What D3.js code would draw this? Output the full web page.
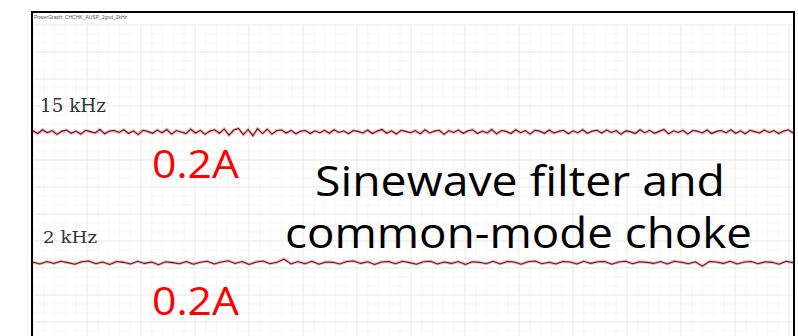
<!DOCTYPE html>
<html>
<head>
<meta charset="utf-8">
<script src="https://cdn.jsdelivr.net/npm/d3@7"></script>
<style>
  html, body { margin: 0; padding: 0; background: #fff; }
  svg { display: block; }
</style>
</head>
<body>
<div id="chart"></div>
<script>
// scope capture: two channels, deviation from level in divisions
var channelNames = ['15 kHz', '2 kHz'];
var channelLevels = [3.96, 8.81];          // division position of each trace (from top of grid)
var currentLabels = ['0.2A', '0.2A'];
var captionLines = ['Sinewave filter and', 'common-mode choke'];
var plotTitle = 'PowerGraph: CHCHK_AUSP_2gnd_2kHz';

var trace15k = [
  0.04,-0.06,0.08,-0.03,0.05,-0.09,0.02,0.07,-0.05,0.03,-0.08,0.06,0.01,-0.04,0.09,-0.07,0.03,0.05,-0.02,0.08,
  -0.06,0.04,-0.10,0.06,0.02,-0.05,0.07,-0.03,0.09,-0.08,0.05,0.00,-0.06,0.10,-0.04,0.06,-0.09,0.03,0.08,-0.05,
  0.11,-0.12,0.07,0.13,-0.10,0.09,-0.14,0.12,-0.06,0.10,-0.08,0.05,0.07,-0.04,0.06,-0.07,0.03,0.05,-0.06,0.04,
  -0.03,0.06,-0.05,0.08,-0.02,0.04,-0.07,0.05,0.02,-0.04,0.07,-0.06,0.03,0.09,-0.05,0.04,-0.08,0.06,0.02,-0.03,
  0.05,-0.07,0.08,-0.04,0.03,0.06,-0.09,0.05,-0.02,0.07,-0.05,0.04,0.08,-0.06,0.03,-0.04,0.09,-0.07,0.05,0.02,
  -0.06,0.08,-0.03,0.05,-0.08,0.06,0.03,-0.05,0.07,-0.04,0.02,0.06,-0.07,0.04,-0.03,0.08,-0.05,0.03,0.06,-0.04,
  0.07,-0.02,0.05,-0.09,0.04,0.01,-0.06,0.08,-0.03,0.06,-0.05,0.02,0.09,-0.07,0.04,-0.02,0.06,-0.08,0.05,0.03,
  -0.04,0.07,-0.06,0.02,0.05,-0.03,0.08,-0.05,0.04,-0.07,0.06,0.01,-0.04,0.07,-0.02,0.05,-0.06,0.03,0.08,-0.04
];
var trace2k = [
  0.02,-0.04,0.05,-0.02,0.06,0.01,-0.05,0.04,0.07,-0.03,0.03,-0.06,0.05,0.02,-0.04,0.06,-0.02,0.03,-0.07,0.04,
  0.01,-0.03,0.05,-0.05,0.02,0.06,-0.04,0.03,0.08,-0.02,0.05,-0.06,0.03,0.07,-0.03,0.02,0.14,-0.04,0.05,-0.03,
  0.06,-0.05,0.03,0.02,-0.04,0.05,0.07,-0.02,0.04,-0.06,0.03,0.05,-0.03,0.06,0.01,-0.05,0.04,0.06,-0.04,0.03,
  -0.02,0.05,-0.06,0.04,0.02,-0.03,0.06,-0.04,0.05,0.03,-0.05,0.04,0.07,-0.03,0.02,-0.04,0.05,0.03,-0.04,0.06,
  -0.02,0.04,0.05,-0.05,0.03,0.06,-0.03,0.04,0.02,-0.02,0.05,-0.04,0.06,0.02,-0.03,0.04,-0.12,0.05,0.03,-0.02,
  0.06,-0.04,0.03,0.05,-0.03,0.04,0.02,-0.05,0.06,0.01
];

var W = 798, H = 336;
var frame = { left: 32, top: 12, right: 794 };

var svg = d3.select('#chart').append('svg')
    .attr('width', W)
    .attr('height', H);

var xScale = d3.scaleLinear().domain([0, 14]).range([33, 789]);         // major divisions
var yScale = d3.scaleLinear().domain([0, 12]).range([25, 349]);         // divisions from top of grid

// grid
var grid = svg.append('g');
var minorX = d3.range(0, 14.01, 0.2), minorY = d3.range(0, 12.01, 0.333333);
grid.selectAll('line.mx').data(minorX).enter().append('line')
    .attr('x1', function (d) { return xScale(d); })
    .attr('x2', function (d) { return xScale(d); })
    .attr('y1', yScale(0)).attr('y2', H)
    .attr('stroke', '#f6f6f6').attr('stroke-width', 1);
grid.selectAll('line.my').data(minorY).enter().append('line')
    .attr('y1', function (d) { return yScale(d); })
    .attr('y2', function (d) { return yScale(d); })
    .attr('x1', frame.left).attr('x2', frame.right)
    .attr('stroke', '#f6f6f6').attr('stroke-width', 1);
grid.selectAll('line.vx').data(d3.range(0, 15)).enter().append('line')
    .attr('x1', function (d) { return xScale(d); })
    .attr('x2', function (d) { return xScale(d); })
    .attr('y1', yScale(0)).attr('y2', H)
    .attr('stroke', '#ebebeb').attr('stroke-width', 1);
grid.selectAll('line.hy').data(d3.range(0, 13)).enter().append('line')
    .attr('y1', function (d) { return yScale(d); })
    .attr('y2', function (d) { return yScale(d); })
    .attr('x1', frame.left).attr('x2', frame.right)
    .attr('stroke', '#ebebeb').attr('stroke-width', 1);

// traces
var traces = [trace15k, trace2k];
traces.forEach(function (data, c) {
    var x = d3.scaleLinear().domain([0, data.length - 1]).range([33, 793]);
    var line = d3.line()
        .x(function (d, i) { return x(i); })
        .y(function (d) { return yScale(channelLevels[c] - d); });
    svg.append('path').datum(data)
        .attr('d', line)
        .attr('fill', 'none')
        .attr('stroke', '#c0505a')
        .attr('stroke-opacity', 0.4)
        .attr('stroke-width', 3);
    svg.append('path').datum(data)
        .attr('d', line)
        .attr('fill', 'none')
        .attr('stroke', '#7a1018')
        .attr('stroke-width', 1.1);
});

// frame
svg.append('path')
    .attr('d', 'M' + frame.left + ',' + H + 'V' + frame.top + 'H' + frame.right + 'V' + H)
    .attr('fill', 'none')
    .attr('stroke', '#000')
    .attr('stroke-width', 2);

svg.append('text')
    .attr('x', 34).attr('y', 19)
    .attr('font-family', 'Liberation Sans, sans-serif')
    .attr('font-size', 5)
    .attr('fill', '#555')
    .text(plotTitle);

// channel names
var nameX = [40, 43], nameY = [112, 243], nameW = [66, 54];
svg.selectAll('text.ch').data(channelNames).enter().append('text')
    .attr('x', function (d, i) { return nameX[i]; })
    .attr('y', function (d, i) { return nameY[i]; })
    .attr('font-family', 'DejaVu Serif, serif')
    .attr('font-size', function (d, i) { return i ? 16 : 18; })
    .attr('fill', '#333')
    .attr('textLength', function (d, i) { return nameW[i]; })
    .attr('lengthAdjust', 'spacingAndGlyphs')
    .text(function (d) { return d; });

// current labels
var curY = [178, 315];
svg.selectAll('text.cur').data(currentLabels).enter().append('text')
    .attr('x', 152)
    .attr('y', function (d, i) { return curY[i]; })
    .attr('font-family', 'Open Sans, sans-serif')
    .attr('font-size', 39)
    .attr('fill', '#ff0000')
    .attr('textLength', 87)
    .attr('lengthAdjust', 'spacingAndGlyphs')
    .text(function (d) { return d; });

// caption
var capX = [315, 285], capY = [196, 248], capW = [410, 467];
svg.selectAll('text.cap').data(captionLines).enter().append('text')
    .attr('x', function (d, i) { return capX[i]; })
    .attr('y', function (d, i) { return capY[i]; })
    .attr('font-family', 'Open Sans, sans-serif')
    .attr('font-size', 42)
    .attr('fill', '#000')
    .attr('textLength', function (d, i) { return capW[i]; })
    .attr('lengthAdjust', 'spacingAndGlyphs')
    .text(function (d) { return d; });
</script>
</body>
</html>
